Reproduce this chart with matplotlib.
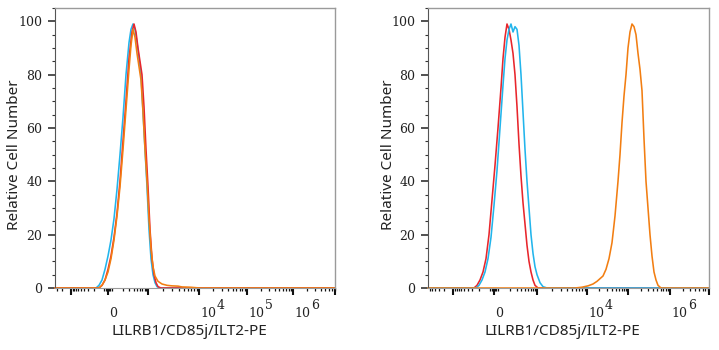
import numpy as np
import matplotlib
matplotlib.use("Agg")
import matplotlib.pyplot as plt
from matplotlib.transforms import blended_transform_factory, offset_copy

# ---------------- data (x in display units along each panel's biexponential axis) -------------
# Left panel
L_cyan_x = [0, 41, 44, 47, 50, 53, 56, 59, 62, 65, 68, 71, 74, 76, 78, 80, 82, 84, 86, 88, 90, 92, 94, 96, 98, 100, 102, 105, 280]
L_cyan_y = [0, 0, 1, 3, 7, 12, 18, 26, 37, 50, 64, 80, 92, 97, 99, 97, 92, 86, 80, 66, 52, 38, 22, 11, 5, 2, 0.5, 0, 0]
L_red_x = [0, 44, 47, 50, 53, 56, 59, 62, 65, 68, 71, 74, 77, 79, 81, 83, 85, 87, 89, 91, 93, 95, 97, 99, 101, 103, 106, 280]
L_red_y = [0, 0, 1, 3, 7, 12, 19, 28, 40, 55, 70, 86, 96, 99, 96, 90, 85, 80, 68, 52, 38, 22, 11, 5, 2, 0.5, 0, 0]
L_orange_x = [0, 44, 47, 50, 53, 56, 59, 62, 65, 68, 71, 74, 76, 78, 80, 82, 84, 86, 88, 90, 92, 94, 96, 98, 100, 103, 107, 112, 117, 123, 127, 135, 145, 280]
L_orange_y = [0, 0, 1, 3, 6, 11, 18, 27, 38, 52, 67, 82, 91, 97, 94, 88, 83, 78, 66, 52, 40, 26, 15, 8, 4.5, 2.5, 1.5, 1.0, 0.8, 0.7, 0.4, 0.3, 0, 0]

# Right panel
R_red_x = [0, 46, 49, 52, 55, 58, 61, 64, 67, 70, 73, 75, 77, 79, 81, 83, 85, 87, 89, 91, 93, 95, 97, 99, 101, 103, 105, 107, 110, 281]
R_red_y = [0, 0, 1, 3, 6, 11, 20, 33, 46, 60, 75, 86, 94, 99, 97, 93, 88, 80, 68, 54, 42, 32, 24, 16, 10, 6, 3, 1, 0, 0]
R_cyan_x = [0, 48, 51, 54, 57, 60, 63, 66, 69, 72, 75, 77, 79, 81, 83, 85, 87, 89, 91, 93, 95, 97, 99, 101, 103, 105, 107, 109, 112, 115, 119, 281]
R_cyan_y = [0, 0, 1, 3, 6, 11, 19, 31, 44, 60, 76, 86, 93, 97, 99, 96, 98, 97, 91, 80, 66, 52, 40, 30, 20, 13, 8, 5, 2, 0.5, 0, 0]
R_orange_x = [0, 147, 154, 160, 165, 169, 172, 175, 178, 181, 184, 187, 190, 192, 194, 196, 198, 200, 202, 204, 206, 208, 210, 212, 214, 216, 218, 220, 222, 224, 226, 228, 230, 233, 281]
R_orange_y = [0, 0, 0.3, 0.8, 1.5, 2.5, 3.5, 4.5, 7, 11, 17, 27, 40, 50, 62, 72, 80, 90, 96, 99, 98, 95, 88, 82, 74, 56, 40, 30, 20, 12, 6, 3, 1, 0, 0]

# axis ticks (display units): -10^3, 0, 10^3, 10^4, 10^5, 10^6, edge
L_major = [16, 53, 93, 144, 192, 238, 280]
R_major = [25, 66, 109, 159, 200, 242, 281]
# tick labels: (position, base text, exponent text)
L_labels = [(53, "0", ""), (144, "10", "4"), (192, "10", "5"), (238, "10", "6")]
R_labels = [(66, "0", ""), (159, "10", "4"), (242, "10", "6")]
y_ticks = [0, 20, 40, 60, 80, 100]

C_CYAN = "#22B5EC"
C_RED = "#E8262C"
C_ORANGE = "#F27E12"

W, H = 719, 350
fig = plt.figure(figsize=(W / 100, H / 100), dpi=100)


def make_axes(x0, x1, y_top=8, y_bot=288):
    return fig.add_axes([x0 / W, (H - y_bot) / H, (x1 - x0) / W, (y_bot - y_top) / H])


def minor_positions(major, width):
    neg, zero, p3 = major[0], major[1], major[2]
    c = 4
    pos = []
    for k in range(2, 10):
        pos.append((zero - c) - (zero - c - neg) * np.log10(k))
    pos += list(np.arange(zero - c, zero + c + 0.1, 1.6))
    for k in range(2, 10):
        pos.append((zero + c) + (p3 - zero - c) * np.log10(k))
    decs = major[2:6]
    for a, b in zip(decs[:-1], decs[1:]):
        for k in range(2, 10):
            pos.append(a + (b - a) * np.log10(k))
    d = decs[-1] - decs[-2]
    for k in range(2, 10):
        p = decs[-1] + d * np.log10(k)
        if p < width:
            pos.append(p)
    for k in range(2, 10):
        p = neg - 30 * np.log10(k)
        if p > 0:
            pos.append(p)
    return pos


TICKFONT = dict(family="DejaVu Serif", fontsize=9, color="#222222")


def panel(ax, width, major, labels, series):
    for xs, ys, col in series:
        ax.plot(xs, ys, color=col, lw=1.15, clip_on=False, solid_joinstyle="round")
    ax.set_xlim(0, width)
    ax.set_ylim(0, 105)
    for s in ["top", "right"]:
        ax.spines[s].set_color("#9a9a9a")
        ax.spines[s].set_linewidth(1.0)
    ax.spines["left"].set_color("#555555")
    ax.spines["bottom"].set_color("#9a9a9a")
    ax.set_yticks(y_ticks)
    ax.set_yticks(np.arange(0, 106, 5), minor=True)
    ax.set_yticklabels([str(v) for v in y_ticks], **TICKFONT)
    ax.tick_params(axis="y", which="major", direction="out", length=5, width=1.2, pad=4, color="#333333")
    ax.tick_params(axis="y", which="minor", direction="out", length=2.2, width=0.8, color="#333333")
    ax.set_xticks(major)
    ax.set_xticklabels([])
    ax.set_xticks(minor_positions(major, width), minor=True)
    ax.tick_params(axis="x", which="major", direction="out", length=5, width=1.5, color="#111111")
    ax.tick_params(axis="x", which="minor", direction="out", length=2.5, width=0.9, color="#111111")
    tr = blended_transform_factory(ax.transData, ax.transAxes)
    for xpos, base, expo in labels:
        ax.text(xpos + 1, -0.105, base, transform=tr, ha="left", va="baseline", **TICKFONT)
        if expo:
            tr2 = offset_copy(tr, fig=fig, x=17, y=8, units="dots")
            ax.text(xpos + 1, -0.105, expo, transform=tr2, ha="left", va="baseline", **TICKFONT)
    ax.text(0.5 - 6 / width, -0.157, "LILRB1/CD85j/ILT2-PE", transform=ax.transAxes, ha="center",
            va="center", family="Noto Sans", fontsize=11, color="#222222")
    try_tr = blended_transform_factory(ax.transAxes, ax.transData)
    ax.text(-40 / width, 50, "Relative Cell Number", transform=try_tr,
            ha="center", va="center", rotation=90, family="Noto Sans", fontsize=11, color="#222222")


axL = make_axes(55, 335)
panel(axL, 280, L_major, L_labels,
      [(L_cyan_x, L_cyan_y, C_CYAN), (L_red_x, L_red_y, C_RED), (L_orange_x, L_orange_y, C_ORANGE)])

axR = make_axes(428, 709)
panel(axR, 281, R_major, R_labels,
      [(R_red_x, R_red_y, C_RED), (R_cyan_x, R_cyan_y, C_CYAN), (R_orange_x, R_orange_y, C_ORANGE)])

fig.savefig("out.png", dpi=100)
